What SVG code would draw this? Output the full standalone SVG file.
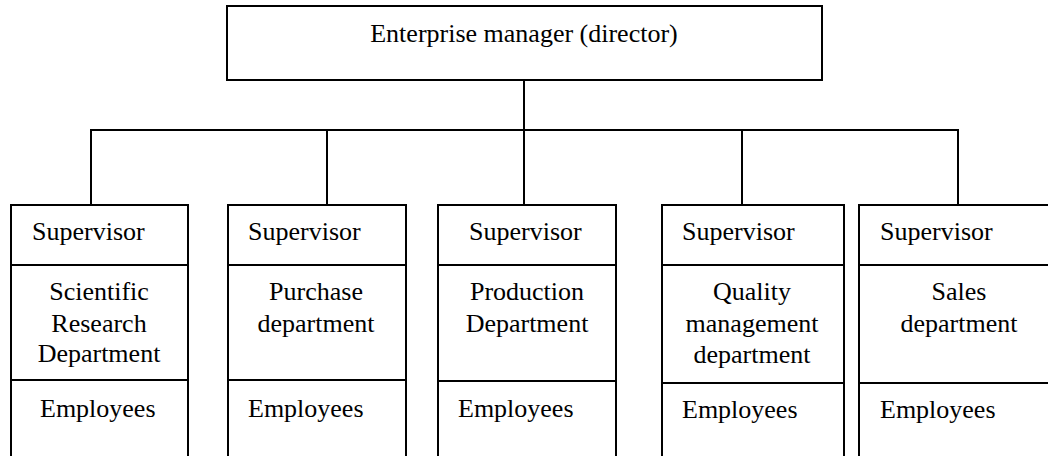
<svg xmlns="http://www.w3.org/2000/svg" width="1048" height="456" viewBox="0 0 1048 456">
<style>
.b{fill:#fff;stroke:#000;stroke-width:2}
.l{stroke:#000;stroke-width:2;fill:none}
text{font-family:"Liberation Serif","Times New Roman",serif;font-size:26px;fill:#000}
.c{text-anchor:middle}
</style>
<rect width="1048" height="456" fill="#fff"/>
<g id="connectors">
<line class="l" x1="524" y1="80" x2="524" y2="130"/>
<line class="l" x1="90" y1="130" x2="959" y2="130"/>
<line class="l" x1="91" y1="130" x2="91" y2="205"/>
<line class="l" x1="327" y1="130" x2="327" y2="205"/>
<line class="l" x1="524" y1="130" x2="524" y2="205"/>
<line class="l" x1="742" y1="130" x2="742" y2="205"/>
<line class="l" x1="958" y1="130" x2="958" y2="205"/>
</g>
<g id="director">
<rect class="b" x="227" y="6" width="595" height="74"/>
<text class="c" x="524" y="42">Enterprise manager (director)</text>
</g>
<g id="dept1">
<rect class="b" x="11" y="205" width="177" height="270"/>
<line class="l" x1="11" y1="265" x2="188" y2="265"/>
<line class="l" x1="11" y1="380" x2="188" y2="380"/>
<text x="32" y="240">Supervisor</text>
<text class="c" x="99" y="300">Scientific</text>
<text class="c" x="99" y="332">Research</text>
<text class="c" x="99" y="362">Department</text>
<text x="40" y="417">Employees</text>
</g>
<g id="dept2">
<rect class="b" x="228" y="205" width="178" height="270"/>
<line class="l" x1="228" y1="265" x2="406" y2="265"/>
<line class="l" x1="228" y1="380" x2="406" y2="380"/>
<text x="248" y="240">Supervisor</text>
<text class="c" x="316" y="300">Purchase</text>
<text class="c" x="316" y="332">department</text>
<text x="248" y="417">Employees</text>
</g>
<g id="dept3">
<rect class="b" x="438" y="205" width="178" height="270"/>
<line class="l" x1="438" y1="265" x2="616" y2="265"/>
<line class="l" x1="438" y1="381" x2="616" y2="381"/>
<text x="469" y="240">Supervisor</text>
<text class="c" x="527" y="300">Production</text>
<text class="c" x="527" y="332">Department</text>
<text x="458" y="417">Employees</text>
</g>
<g id="dept4">
<rect class="b" x="662" y="205" width="182" height="270"/>
<line class="l" x1="662" y1="265" x2="844" y2="265"/>
<line class="l" x1="662" y1="383" x2="844" y2="383"/>
<text x="682" y="240">Supervisor</text>
<text class="c" x="752" y="300">Quality</text>
<text class="c" x="752" y="332">management</text>
<text class="c" x="752" y="363">department</text>
<text x="682" y="418">Employees</text>
</g>
<g id="dept5">
<rect class="b" x="859" y="205" width="200" height="270"/>
<line class="l" x1="859" y1="265" x2="1059" y2="265"/>
<line class="l" x1="859" y1="383" x2="1059" y2="383"/>
<text x="880" y="240">Supervisor</text>
<text class="c" x="959" y="300">Sales</text>
<text class="c" x="959" y="332">department</text>
<text x="880" y="418">Employees</text>
</g>
</svg>
